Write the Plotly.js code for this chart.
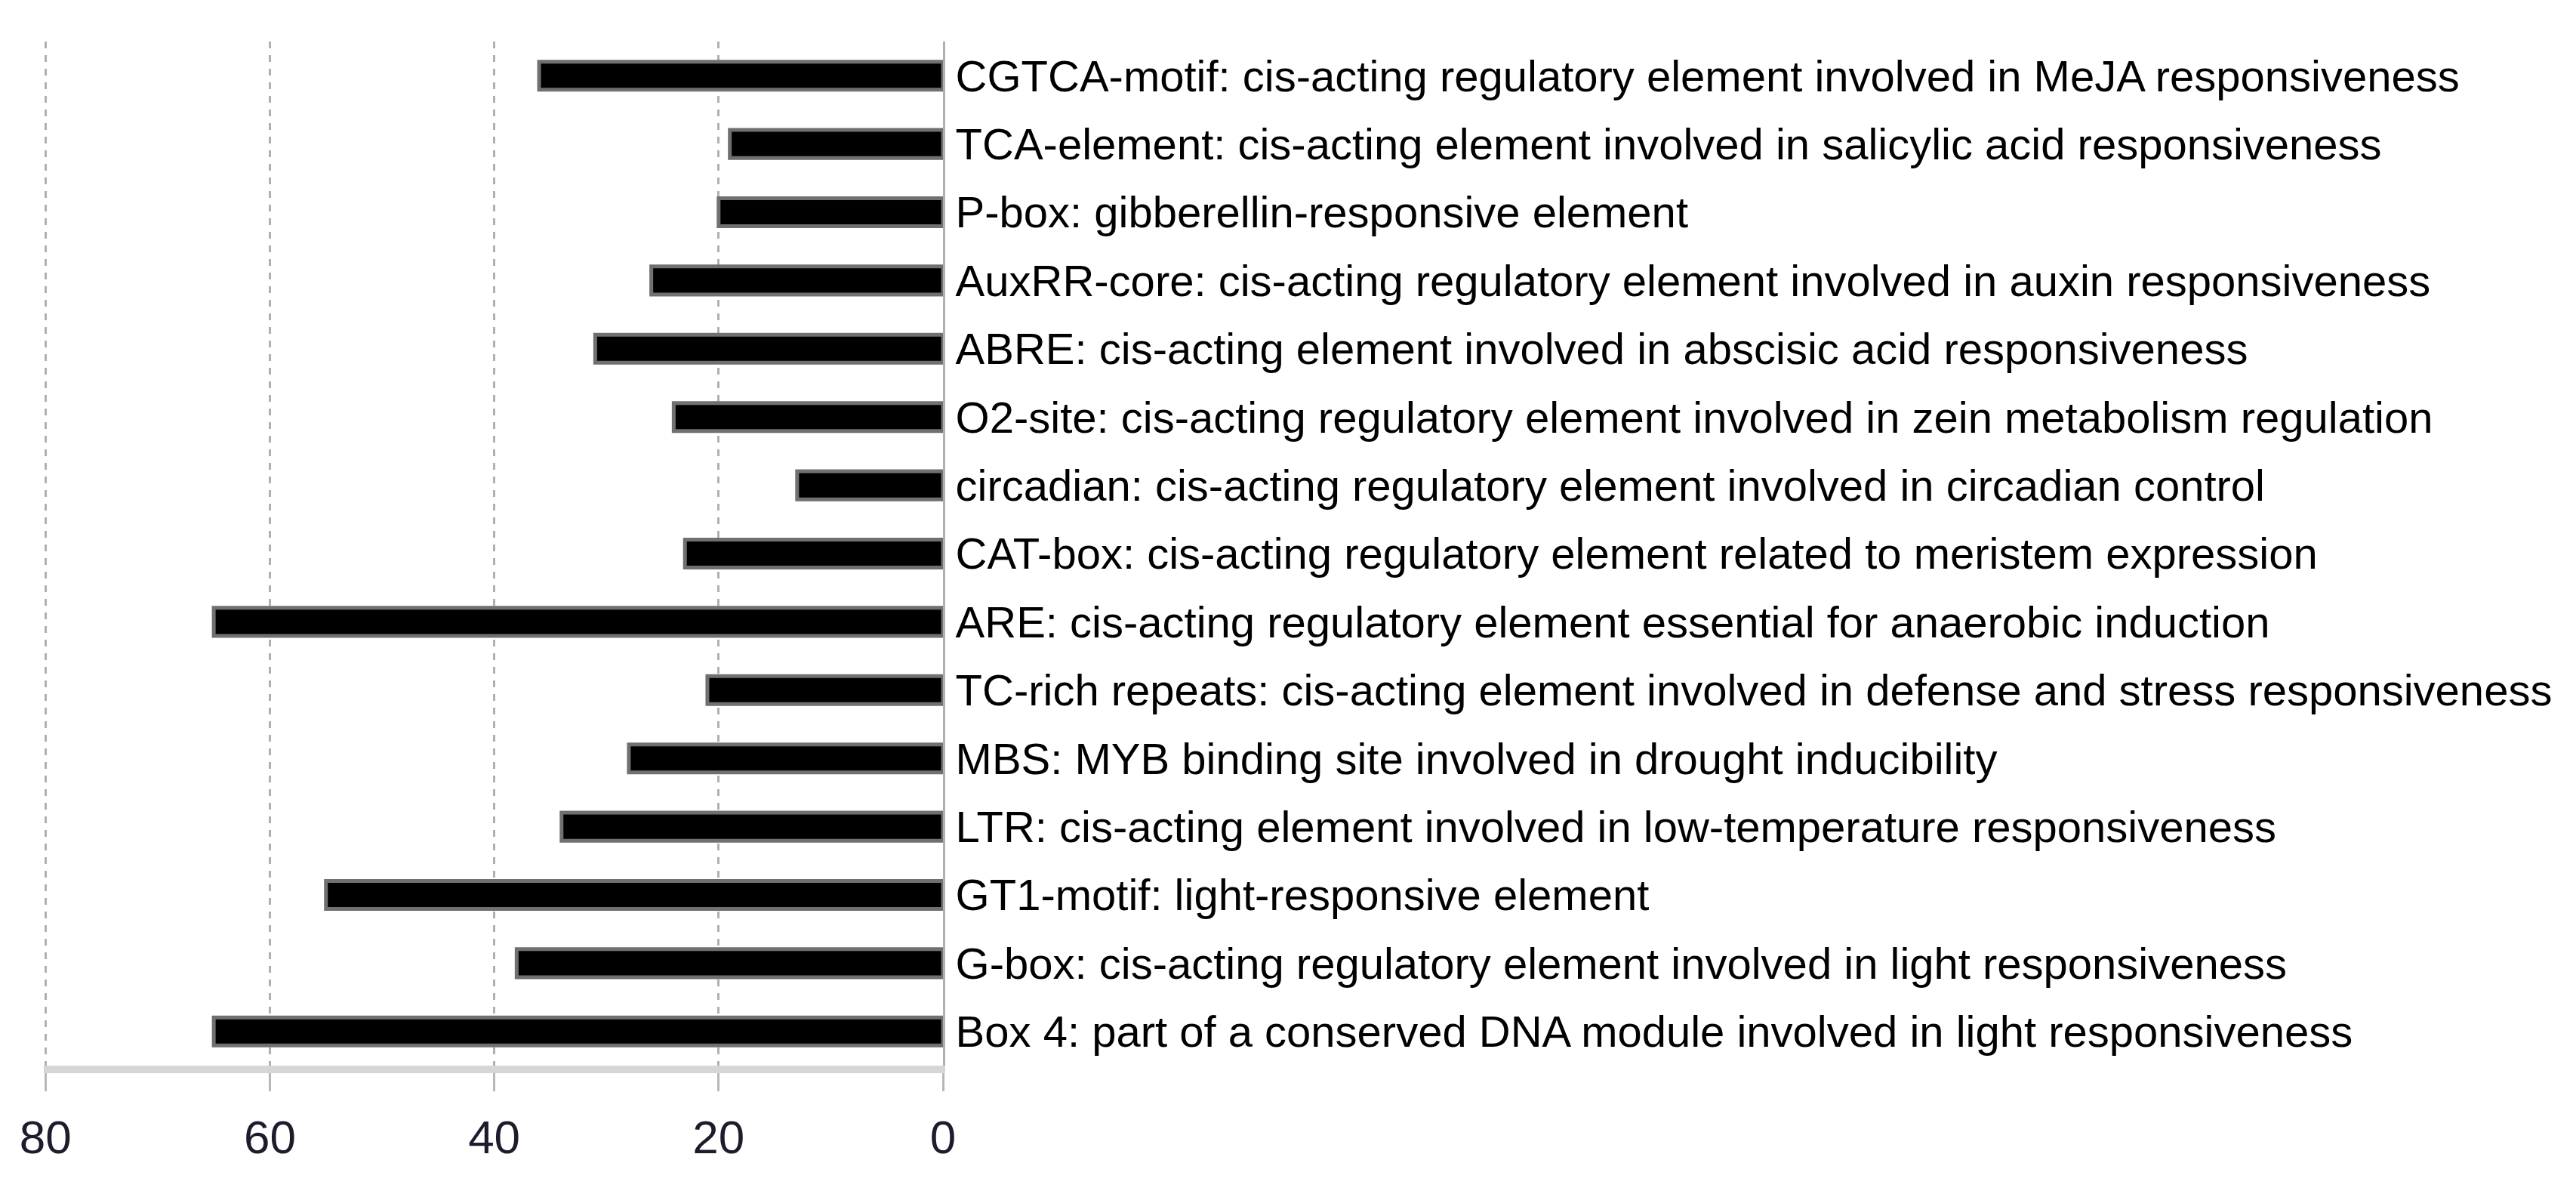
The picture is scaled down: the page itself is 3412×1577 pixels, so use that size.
<!DOCTYPE html>
<html>
<head>
<meta charset="utf-8">
<script src="https://cdn.plot.ly/plotly-3.0.1.min.js"></script>
<style>html,body{margin:0;padding:0;background:#fff;}#chart{width:3412px;height:1577px;}</style>
</head>
<body>
<div id="chart"></div>
<script>
// Categories listed top to bottom as in the figure
const elements = [
  "CGTCA-motif: cis-acting regulatory element involved in MeJA responsiveness",
  "TCA-element: cis-acting element involved in salicylic acid responsiveness",
  "P-box: gibberellin-responsive element",
  "AuxRR-core: cis-acting regulatory element involved in auxin responsiveness",
  "ABRE: cis-acting element involved in abscisic acid responsiveness",
  "O2-site: cis-acting regulatory element involved in zein metabolism regulation",
  "circadian: cis-acting regulatory element involved in circadian control",
  "CAT-box: cis-acting regulatory element related to meristem expression",
  "ARE: cis-acting regulatory element essential for anaerobic induction",
  "TC-rich repeats: cis-acting element involved in defense and stress responsiveness",
  "MBS: MYB binding site involved in drought inducibility",
  "LTR: cis-acting element involved in low-temperature responsiveness",
  "GT1-motif: light-responsive element",
  "G-box: cis-acting regulatory element involved in light responsiveness",
  "Box 4: part of a conserved DNA module involved in light responsiveness"
];
const counts = [36, 19, 20, 26, 31, 24, 13, 23, 65, 21, 28, 34, 55, 38, 65];
const xTicks = [0, 20, 40, 60, 80];
const xTickText = ["0", "20", "40", "60", "80"];

const trace = {
  type: "bar",
  orientation: "h",
  y: elements,
  x: counts,
  width: 0.41,
  marker: { color: "#000000", line: { color: "#707070", width: 5 } },
  hoverinfo: "x+y"
};

const layout = {
  width: 3412,
  height: 1577,
  paper_bgcolor: "#ffffff",
  plot_bgcolor: "#ffffff",
  showlegend: false,
  margin: { l: 58, r: 2163, t: 55, b: 166, pad: 0 },
  font: { family: "Liberation Sans, Arial, sans-serif", color: "#000" },
  xaxis: {
    range: [80.15, 0],
    tickvals: xTicks,
    ticktext: xTickText,
    showgrid: true,
    gridcolor: "#b0b0b0",
    gridwidth: 3,
    griddash: "dash",
    zeroline: false,
    showline: true,
    linecolor: "#d6d6d6",
    linewidth: 10,
    ticks: "outside",
    ticklen: 24,
    tickwidth: 3,
    tickcolor: "#b8b8b8",
    ticklabelstandoff: 8,
    tickfont: { size: 62, color: "#1c1c2c", family: "Liberation Sans, Arial, sans-serif" }
  },
  yaxis: {
    type: "category",
    autorange: "reversed",
    side: "right",
    showgrid: false,
    zeroline: false,
    showline: true,
    linecolor: "#b0b0b0",
    linewidth: 3,
    ticks: "",
    ticklabelstandoff: 2,
    tickfont: { size: 58, color: "#000", family: "Liberation Sans, Arial, sans-serif" }
  },
  bargap: 0.58
};

Plotly.newPlot("chart", [trace], layout, { displayModeBar: false, staticPlot: true });
</script>
</body>
</html>
